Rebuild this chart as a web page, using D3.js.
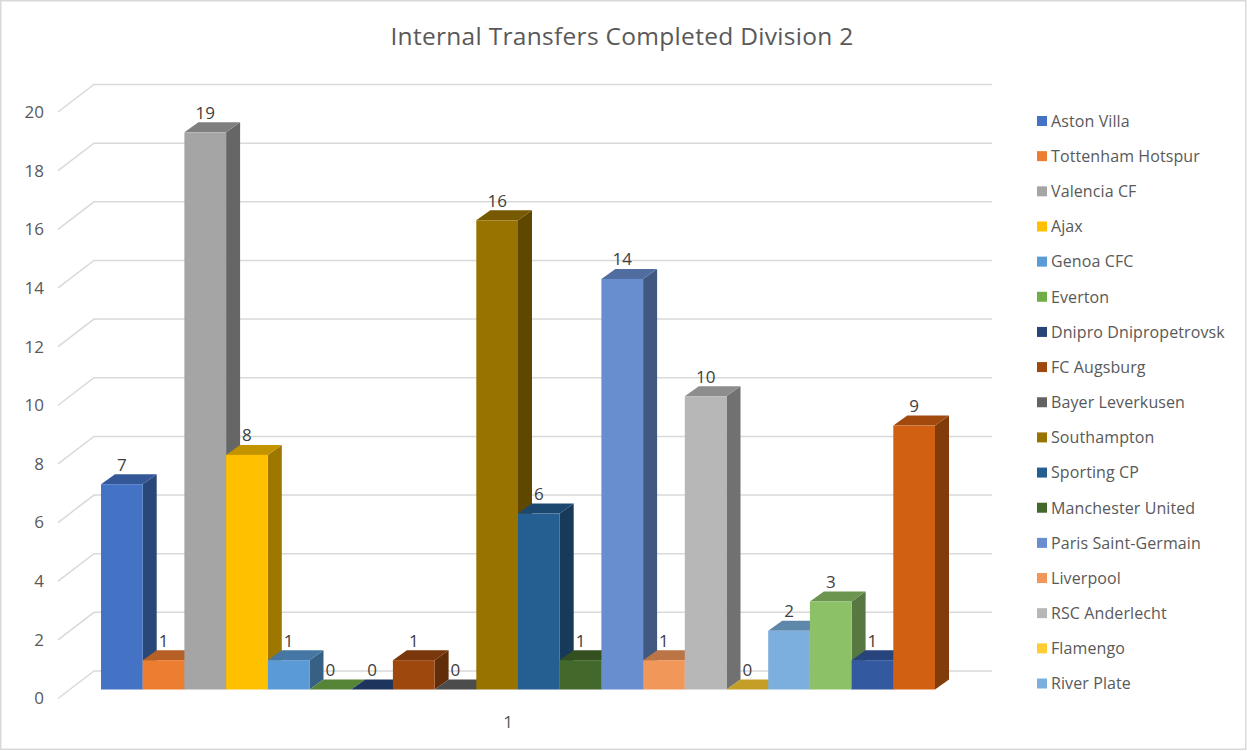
<!DOCTYPE html>
<html><head><meta charset="utf-8">
<script src="https://cdn.jsdelivr.net/npm/d3@7"></script>
<style>html,body{margin:0;padding:0;background:#fff;overflow:hidden}svg{display:block}text{font-family:"Open Sans",sans-serif}</style>
</head><body><svg id="c" width="1247" height="751"></svg>
<script>
const titleText = "Internal Transfers Completed Division 2";
const categoryLabel = "1";
const legendNames = ["Aston Villa","Tottenham Hotspur","Valencia CF","Ajax","Genoa CFC","Everton","Dnipro Dnipropetrovsk","FC Augsburg","Bayer Leverkusen","Southampton","Sporting CP","Manchester United","Paris Saint-Germain","Liverpool","RSC Anderlecht","Flamengo","River Plate"];
const seriesValues = [7,1,19,8,1,0,0,1,0,16,6,1,14,1,10,0,2,3,1,9];
const seriesColors = ["#4472C4","#ED7D31","#A5A5A5","#FFC000","#5B9BD5","#70AD47","#264478","#9E480E","#636363","#997300","#255E91","#43682B","#698ED0","#F1975A","#B7B7B7","#FFCD33","#7CAFDD","#8CC168","#335AA1","#D26012"];
const yTicks = d3.range(0,21,2);

const svg = d3.select("#c");
const depthX = 14, depthY = 10;
const x = d3.scaleBand().domain(d3.range(seriesValues.length)).range([101,935]);
const y = d3.scaleLinear().domain([0,20]).range([689.5,103]);

svg.append("rect").attr("x",0.75).attr("y",0.75).attr("width",1245).attr("height",748.5)
  .attr("fill","#fff").attr("stroke","#D9D9D9").attr("stroke-width",1.5);

svg.append("text").attr("x",622).attr("y",45).attr("text-anchor","middle")
  .attr("font-size",24.5).attr("fill","#595959").attr("letter-spacing",0.3).text(titleText);

// walls / gridlines
const grid = svg.append("g").attr("fill","none").attr("stroke","#D9D9D9").attr("stroke-width",1.5);
yTicks.forEach(t=>{
  const yb = y(t)-18.5;
  grid.append("path").attr("d",d3.line()([[58,yb+27.5],[94,yb],[992,yb]]));
});
// axis labels
svg.append("g").selectAll("text").data(yTicks).join("text")
  .attr("x",44).attr("y",t=>y(t)+9+5.9).attr("text-anchor","end")
  .attr("font-size",17).attr("fill","#595959").text(d=>d);
svg.append("text").attr("x",508).attr("y",728).attr("text-anchor","middle")
  .attr("font-size",17).attr("fill","#595959").text(categoryLabel);

// bars (left to right so nearer neighbours overlap)
const poly = d3.line();
const bars = svg.append("g");
seriesValues.forEach((v,i)=>{
  const x0=x(i), x1=x0+x.bandwidth(), yt=y(v), yb=y(0);
  const c=d3.color(seriesColors[i]);
  const shade=k=>{const r=d3.rgb(c);return d3.rgb(r.r*k,r.g*k,r.b*k).formatHex();};
  const g=bars.append("g");
  g.append("path").attr("d",poly([[x1,yt],[x1+depthX,yt-depthY],[x1+depthX,yb-depthY],[x1,yb]])+"Z").attr("fill",shade(0.62));
  g.append("path").attr("d",poly([[x0,yt],[x0+depthX,yt-depthY],[x1+depthX,yt-depthY],[x1,yt]])+"Z").attr("fill",shade(0.77));
  g.append("rect").attr("x",x0).attr("y",yt).attr("width",x.bandwidth()).attr("height",yb-yt).attr("fill",seriesColors[i]);
});
// data labels
svg.append("g").selectAll("text").data(seriesValues).join("text")
  .attr("x",(d,i)=>x(i)+x.bandwidth()/2).attr("y",d=>y(d)-13.6)
  .attr("text-anchor","middle").attr("font-size",17).attr("fill","#404040").text(d=>d);

// legend
const leg = d3.scalePoint().domain(d3.range(legendNames.length)).range([121,683.5]);
const lg = svg.append("g");
legendNames.forEach((n,i)=>{
  lg.append("rect").attr("x",1037).attr("y",leg(i)-5).attr("width",10).attr("height",10).attr("fill",seriesColors[i]);
  lg.append("text").attr("x",1051).attr("y",leg(i)+5.8).attr("font-size",16).attr("letter-spacing",0.1).attr("fill","#595959").text(n);
});
</script></body></html>
